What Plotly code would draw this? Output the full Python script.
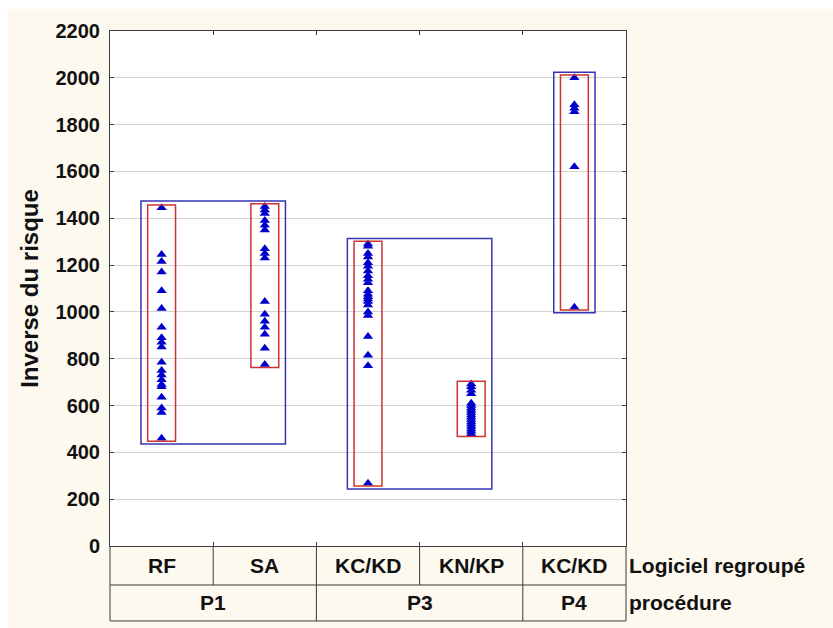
import plotly.graph_objects as go

# Column labels (software) and their procedure groups
logiciels = ["RF", "SA", "KC/KD", "KN/KP", "KC/KD"]
procedures = ["P1", "P1", "P3", "P3", "P4"]
groupes = ["P1", "P3", "P4"]

# Inverse du risque, one list per column
rf = [1445, 1245, 1215, 1170, 1090, 1015, 935, 890, 870, 850, 785, 750, 730,
      710, 690, 680, 635, 590, 570, 460]
sa = [1450, 1435, 1420, 1390, 1370, 1350, 1270, 1250, 1230, 1045, 990, 960,
      935, 905, 845, 775]
kckd_p3 = [1290, 1280, 1250, 1235, 1210, 1195, 1175, 1155, 1140, 1125, 1090,
           1075, 1065, 1055, 1045, 1030, 1000, 985, 895, 815, 770, 268]
knkp = [692, 680, 665, 650, 610, 600, 590, 580, 570, 560, 550, 540, 530, 520,
        510, 500, 490, 480]
kckd_p4 = [2000, 1885, 1870, 1855, 1620, 1020]

columns = [rf, sa, kckd_p3, knkp, kckd_p4]

y_ticks = list(range(0, 2201, 200))

FONT = "Liberation Sans, Arial, sans-serif"
MARK = "#0000CC"
RED = "#CC3333"
BLUE = "#3535B5"
EDGE = "#3A3A3A"
CREAM = "#FDF9EF"

fig = go.Figure()

for i, vals in enumerate(columns):
    fig.add_trace(go.Scatter(
        x=[i] * len(vals), y=vals, mode="markers",
        marker=dict(symbol="triangle-up", size=9, color=MARK, line=dict(width=0)),
        showlegend=False, hoverinfo="y",
    ))

shapes = []

# Range box per column (red)
for i, vals in enumerate(columns):
    shapes.append(dict(type="rect", xref="x", yref="y",
                       x0=i - 0.135, x1=i + 0.135,
                       y0=min(vals) - 12, y1=max(vals) + 12,
                       line=dict(color=RED, width=1.5), layer="above"))

# Range box per procedure (blue)
for g in groupes:
    idx = [i for i, p in enumerate(procedures) if p == g]
    vals = [v for i in idx for v in columns[i]]
    shapes.append(dict(type="rect", xref="x", yref="y",
                       x0=min(idx) - 0.2, x1=max(idx) + 0.2,
                       y0=min(vals) - 24, y1=max(vals) + 24,
                       line=dict(color=BLUE, width=1.5), layer="above"))

# White strips at top and left of the cream page
shapes.append(dict(type="rect", xref="paper", yref="paper", x0=-0.25, x1=1.5,
                   y0=1.0427, y1=1.1, fillcolor="white", line=dict(width=0)))
shapes.append(dict(type="rect", xref="paper", yref="paper", x0=-0.25, x1=-0.1977,
                   y0=-0.2, y1=1.1, fillcolor="white", line=dict(width=0)))

# Category table under the plot
ROW1 = -0.0757
ROW2 = -0.1456
tbl = dict(color=EDGE, width=1)
for yv in (ROW1, ROW2):
    shapes.append(dict(type="line", xref="paper", yref="paper", x0=0, x1=1,
                       y0=yv, y1=yv, line=tbl))
for xv in (0, 1):
    shapes.append(dict(type="line", xref="paper", yref="paper", x0=xv, x1=xv,
                       y0=0, y1=ROW2, line=tbl))
for i in range(len(logiciels) - 1):
    b = i + 0.5
    shapes.append(dict(type="line", xref="x", yref="paper", x0=b, x1=b,
                       y0=0, y1=ROW1, line=tbl))
    if procedures[i] != procedures[i + 1]:
        shapes.append(dict(type="line", xref="x", yref="paper", x0=b, x1=b,
                           y0=ROW1, y1=ROW2, line=tbl))

annotations = []
tfont = dict(family=FONT, size=21, color="#111111", weight="bold")
for i, lab in enumerate(logiciels):
    annotations.append(dict(x=i, y=ROW1 / 2, xref="x", yref="paper", text=lab,
                            showarrow=False, font=tfont, yanchor="middle"))
for g in groupes:
    idx = [i for i, p in enumerate(procedures) if p == g]
    annotations.append(dict(x=(min(idx) + max(idx)) / 2, y=(ROW1 + ROW2) / 2,
                            xref="x", yref="paper", text=g, showarrow=False,
                            font=tfont, yanchor="middle"))
annotations.append(dict(x=1.002, y=ROW1 / 2, xref="paper", yref="paper",
                        text="Logiciel regroupé", showarrow=False, font=tfont,
                        xanchor="left", yanchor="middle"))
annotations.append(dict(x=1.002, y=(ROW1 + ROW2) / 2, xref="paper", yref="paper",
                        text="procédure", showarrow=False, font=tfont,
                        xanchor="left", yanchor="middle"))

fig.update_layout(
    width=833, height=628,
    margin=dict(l=110, r=207, t=31, b=82, autoexpand=False),
    paper_bgcolor=CREAM, plot_bgcolor="white",
    shapes=shapes, annotations=annotations,
    font=dict(family=FONT, color="#111111"),
    xaxis=dict(range=[-0.5, len(logiciels) - 0.5], tickvals=[0.5, 1.5, 2.5, 3.5],
               ticks="inside", ticklen=4, tickcolor=EDGE, showticklabels=False,
               showgrid=False, zeroline=False, showline=True, linecolor=EDGE,
               linewidth=1, mirror="ticks"),
    yaxis=dict(range=[0, 2200], tickvals=y_ticks, ticks="inside", ticklen=4,
               tickcolor=EDGE, showgrid=True, gridcolor="#D4D4D4", gridwidth=1,
               zeroline=False, showline=True, linecolor=EDGE, linewidth=1,
               mirror="ticks", ticklabelstandoff=5,
               tickfont=dict(family=FONT, size=20, color="#111111", weight="bold"),
               title=dict(text="Inverse du risque", standoff=10,
                          font=dict(family=FONT, size=24, color="#111111",
                                    weight="bold"))),
)

fig.write_html("out.html")
